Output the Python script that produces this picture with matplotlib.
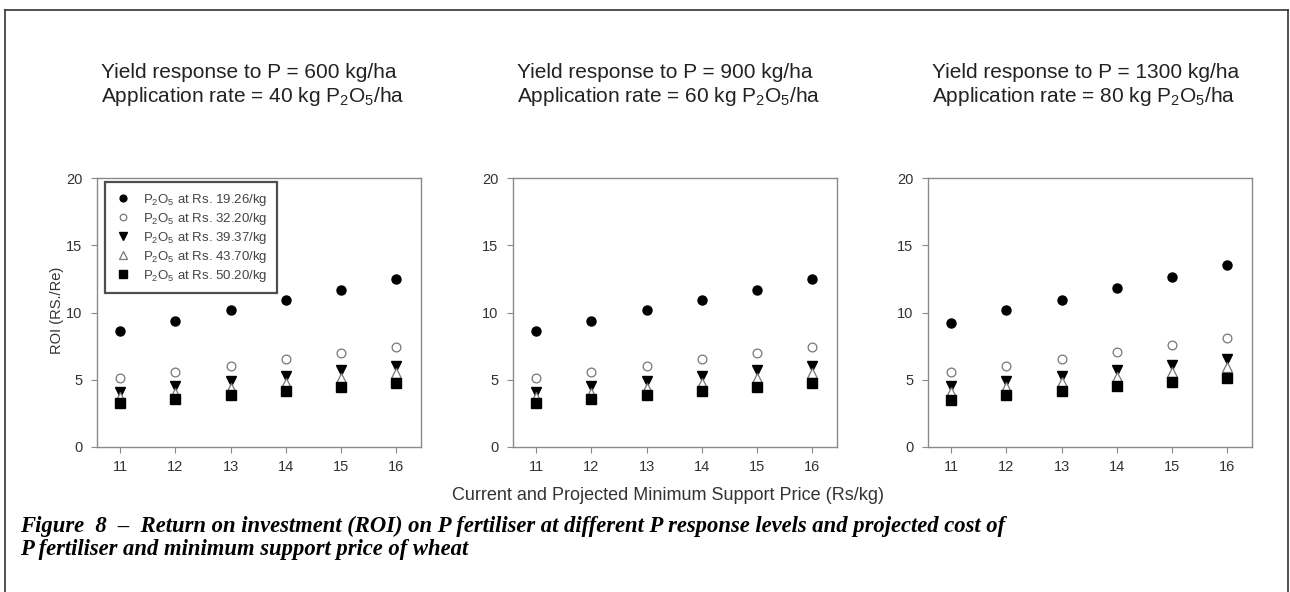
import matplotlib
matplotlib.use("Agg")
import matplotlib.pyplot as plt
from matplotlib.lines import Line2D

plt.rcParams['font.family'] = ['Liberation Sans', 'DejaVu Sans']
plt.rcParams['mathtext.default'] = 'regular'

msp = [11, 12, 13, 14, 15, 16]
cost_labels = ["19.26", "32.20", "39.37", "43.70", "50.20"]

title_line1 = [
    "Yield response to P = 600 kg/ha",
    "Yield response to P = 900 kg/ha",
    "Yield response to P = 1300 kg/ha",
]
title_line2 = [
    "Application rate = 40 kg P$_2$O$_5$/ha",
    "Application rate = 60 kg P$_2$O$_5$/ha",
    "Application rate = 80 kg P$_2$O$_5$/ha",
]

# ROI values per panel, per P2O5 cost
roi_600 = [
    [8.6, 9.4, 10.15, 10.95, 11.7, 12.5],
    [5.15, 5.6, 6.05, 6.55, 7.0, 7.45],
    [4.1, 4.5, 4.9, 5.3, 5.7, 6.05],
    [3.7, 4.05, 4.4, 4.75, 5.15, 5.5],
    [3.25, 3.55, 3.85, 4.15, 4.45, 4.75],
]
roi_900 = [
    [8.6, 9.4, 10.15, 10.95, 11.7, 12.5],
    [5.15, 5.6, 6.05, 6.55, 7.0, 7.45],
    [4.1, 4.5, 4.9, 5.3, 5.7, 6.05],
    [3.7, 4.05, 4.4, 4.75, 5.15, 5.5],
    [3.25, 3.55, 3.85, 4.15, 4.45, 4.75],
]
roi_1300 = [
    [9.25, 10.15, 10.95, 11.8, 12.65, 13.5],
    [5.55, 6.05, 6.55, 7.1, 7.6, 8.1],
    [4.5, 4.9, 5.3, 5.7, 6.1, 6.55],
    [4.1, 4.45, 4.85, 5.2, 5.55, 5.95],
    [3.5, 3.85, 4.15, 4.5, 4.8, 5.15],
]
panels = [roi_600, roi_900, roi_1300]

styles = [
    dict(marker='o', mfc='black', mec='black', ms=6.5),
    dict(marker='o', mfc='white', mec='#777777', ms=6.3, mew=0.9),
    dict(marker='v', mfc='black', mec='black', ms=7.5),
    dict(marker='^', mfc='white', mec='#777777', ms=7.5, mew=0.9),
    dict(marker='s', mfc='black', mec='black', ms=6.8),
]

W, H = 1290, 592
fig = plt.figure(figsize=(W / 100, H / 100), dpi=100)

# outer frame
fc = '#333333'
fig.add_artist(Line2D([5 / W, 5 / W], [0, 1 - 10 / H], transform=fig.transFigure, color=fc, lw=1.2))
fig.add_artist(Line2D([5 / W, 1288 / W], [1 - 10 / H, 1 - 10 / H], transform=fig.transFigure, color=fc, lw=1.2))
fig.add_artist(Line2D([1288 / W, 1288 / W], [0, 1 - 10 / H], transform=fig.transFigure, color=fc, lw=1.2))

lefts = [97, 513, 928]
ax_w = 324
top, bottom = 178, 447
spine_c = '#8a8a8a'
txt_c = '#333333'

axes = []
for i, left in enumerate(lefts):
    ax = fig.add_axes([left / W, 1 - bottom / H, ax_w / W, (bottom - top) / H])
    axes.append(ax)
    for j, vals in enumerate(panels[i]):
        ax.plot(msp, vals, linestyle='none', label=f"P$_2$O$_5$ at Rs. {cost_labels[j]}/kg", **styles[j])
    ax.set_xlim(10.58, 16.45)
    ax.set_ylim(0, 20)
    ax.set_xticks(msp)
    ax.set_yticks([0, 5, 10, 15, 20])
    for s in ax.spines.values():
        s.set_color(spine_c)
        s.set_linewidth(1.0)
    ax.tick_params(direction='out', length=4.5, width=0.8, color=spine_c, labelcolor=txt_c, labelsize=10.5)
    ax.tick_params(axis='x', pad=5)
    ax.tick_params(axis='y', pad=6)
    fig.text((left + 4) / W, 1 - 73 / H, title_line1[i], ha='left', va='center',
             fontsize=15, color='#222222')
    fig.text((left + 4) / W, 1 - 97 / H, title_line2[i], ha='left', va='center',
             fontsize=15, color='#222222')

fig.text(57 / W, 1 - 310 / H, "ROI (RS./Re)", rotation=90, ha='center', va='center',
         fontsize=10.5, color=txt_c)

leg = axes[0].legend(loc='upper left', bbox_to_anchor=(0.025, 0.985), fontsize=9.5, frameon=True,
                     fancybox=False, edgecolor='#222222', handletextpad=0.9, labelspacing=0.22,
                     borderpad=0.75, handlelength=1.2, markerscale=0.75, labelcolor='#444444',
                     borderaxespad=0)
leg.get_frame().set_linewidth(1.6)

fig.text(668 / W, 1 - 495 / H, "Current and Projected Minimum Support Price (Rs/kg)",
         ha='center', va='center', fontsize=13, color=txt_c)

fig.text(20 / W, 1 - 526 / H,
         "Figure  8  –  Return on investment (ROI) on P fertiliser at different P response levels and projected cost of",
         ha='left', va='center', fontsize=16.3, family='Liberation Serif', style='italic', weight='bold')
fig.text(20 / W, 1 - 550 / H, "P fertiliser and minimum support price of wheat",
         ha='left', va='center', fontsize=16.3, family='Liberation Serif', style='italic', weight='bold')

fig.savefig("out.png", dpi=100)
